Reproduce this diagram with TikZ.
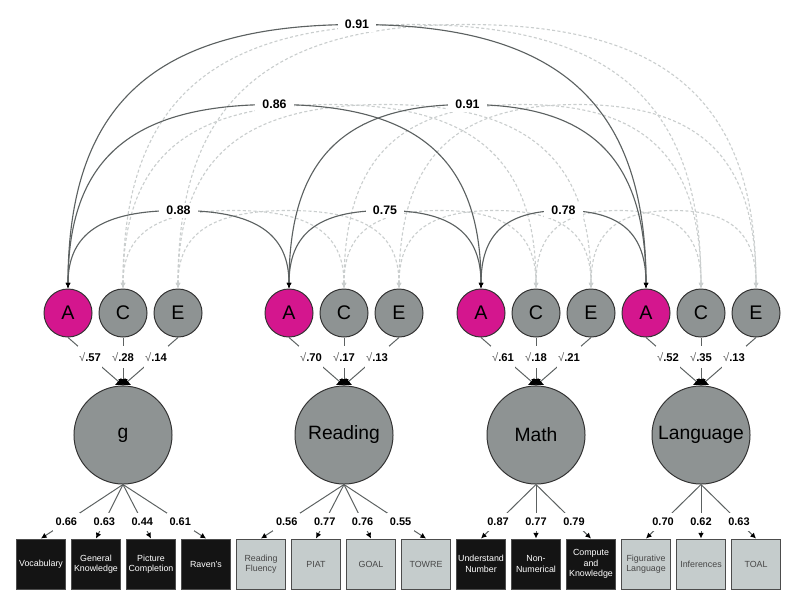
\documentclass[tikz,border=0pt]{standalone}
\usepackage{fontspec}
\setmainfont{Liberation Sans}
\usetikzlibrary{arrows.meta, calc}

\definecolor{amag}{HTML}{D4168E}
\definecolor{cgray}{HTML}{8E9393}
\definecolor{boxlight}{HTML}{C5CCCC}
\definecolor{arcdark}{HTML}{5C6161}
\definecolor{arclight}{HTML}{CACECE}

\tikzset{
  acecirc/.style={circle, draw=black!80, line width=0.7pt, minimum size=1.2cm, inner sep=0pt,
    font=\fontsize{14}{16}\selectfont},
  latent/.style={circle, draw=black!80, line width=0.7pt, fill=cgray, minimum size=2.45cm, inner sep=0pt,
    font=\fontsize{13.7}{16}\selectfont},
  indbox/.style={rectangle, draw=black!70, line width=0.7pt, minimum width=1.225cm, minimum height=1.25cm,
    inner sep=0pt, align=center, font=\fontsize{6.3}{7.4}\selectfont},
  darkbox/.style={indbox, fill=black!92, text=white},
  lightbox/.style={indbox, fill=boxlight, text=black!72},
  acov/.style={draw=arcdark, line width=0.8pt, {Latex[length=4pt,width=3.5pt,black]}-{Latex[length=4pt,width=3.5pt,black]}},
  cecov/.style={draw=arclight, line width=0.8pt, dash pattern=on 2.2pt off 1.6pt,
    {Latex[length=4pt,width=3.5pt]}-{Latex[length=4pt,width=3.5pt]}},
  covlbl/.style={fill=white, inner xsep=5pt, inner ysep=2pt, font=\fontsize{8.8}{10}\selectfont\bfseries},
  path/.style={draw=arcdark, line width=0.7pt, -{Latex[length=4.5pt,width=7pt,black]}},
  sqlbl/.style={fill=white, inner xsep=1pt, inner ysep=4.5pt, font=\fontsize{8}{10}\selectfont\bfseries},
  ldlbl/.style={fill=white, inner xsep=2pt, inner ysep=3.5pt, font=\fontsize{7.8}{10}\selectfont\bfseries},
  load/.style={draw=arcdark, line width=0.7pt, -{Latex[length=4pt,width=4pt,black]}}
}

\begin{document}
\begin{tikzpicture}[x=0.025cm, y=-0.025cm]
\useasboundingbox (0,0) rectangle (800,604);

% ACE components
\foreach \i/\xa in {1/68, 2/289, 3/481, 4/646} {
  \node[acecirc, fill=amag] (A\i) at (\xa,313) {A};
  \node[acecirc, fill=cgray] (C\i) at (\xa+55,313) {C};
  \node[acecirc, fill=cgray] (E\i) at (\xa+110,313) {E};
}

% latent factors
\node[latent] (lat1) at (123,435) {g};
\node[latent] (lat2) at (344,435) {Reading};
\node[latent] (lat3) at (536,435) {Math};
\node[latent] (lat4) at (701,435) {Language};

% indicators
\foreach \k/\st/\txt in {1/darkbox/Vocabulary, 2/darkbox/{General\\Knowledge}, 3/darkbox/{Picture\\Completion},
    4/darkbox/Raven's, 5/lightbox/{Reading\\Fluency}, 6/lightbox/PIAT, 7/lightbox/GOAL, 8/lightbox/TOWRE,
    9/darkbox/{Understand\\Number}, 10/darkbox/{Non-\\Numerical}, 11/darkbox/{Compute\\and\\Knowledge},
    12/lightbox/{Figurative\\Language}, 13/lightbox/Inferences, 14/lightbox/TOAL}
  \node[\st] (ind\k) at (41+55*\k-55,564) {\txt};

% C and E covariances
\foreach \r in {C,E}
  \foreach \s/\t/\h in {1/2/78, 2/3/78, 3/4/78, 1/3/184, 2/4/184, 1/4/264}
    \draw[cecov] let \p1=(\r\s.north), \p2=(\r\t.north), \n1={0.35*(\x2-\x1)} in
      (\p1) .. controls +(0,-0.7*\h) and +(-\n1,0) .. ($(\p1)!.5!(\p2)+(0,-\h)$)
      .. controls +(\n1,0) and +(0,-0.7*\h) .. (\p2);

% A covariances
\foreach \s/\t/\h/\v in {1/2/78/0.88, 2/3/78/0.75, 3/4/78/0.78, 1/3/184/0.86, 2/4/184/0.91, 1/4/264/0.91}
  \draw[acov] let \p1=(A\s.north), \p2=(A\t.north), \n1={0.35*(\x2-\x1)} in
    (\p1) .. controls +(0,-0.7*\h) and +(-\n1,0) .. ($(\p1)!.5!(\p2)+(0,-\h)$) node[covlbl]{\v}
    .. controls +(\n1,0) and +(0,-0.7*\h) .. (\p2);

% variance paths
\foreach \i/\pa/\pc/\pe in {1/.57/.28/.14, 2/.70/.17/.13, 3/.61/.18/.21, 4/.52/.35/.13} {
  \draw[path] (A\i.south) -- node[sqlbl, pos=.4]{{\mdseries\color{black!65}√}\pa} (lat\i.north);
  \draw[path] (C\i.south) -- node[sqlbl, pos=.4]{{\mdseries\color{black!65}√}\pc} (lat\i.north);
  \draw[path] (E\i.south) -- node[sqlbl, pos=.4]{{\mdseries\color{black!65}√}\pe} (lat\i.north);
}

% loadings
\foreach \k/\l/\v in {1/1/0.66, 2/1/0.63, 3/1/0.44, 4/1/0.61, 5/2/0.56, 6/2/0.77, 7/2/0.76, 8/2/0.55,
    9/3/0.87, 10/3/0.77, 11/3/0.79, 12/4/0.70, 13/4/0.62, 14/4/0.63}
  \draw[load] (lat\l.south) -- node[ldlbl, pos=.69]{\v} (ind\k.north);

\end{tikzpicture}
\end{document}
